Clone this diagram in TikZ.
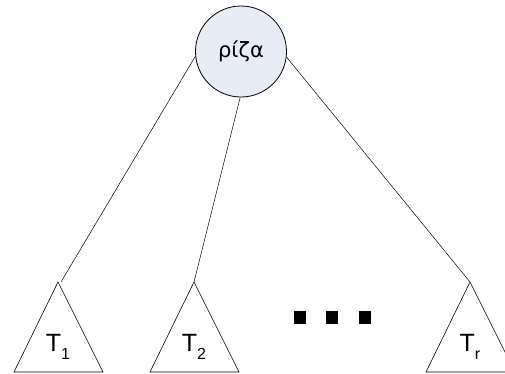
\documentclass[tikz,border=0pt]{standalone}
\usepackage{fontspec}
\setmainfont{Liberation Sans}
\newfontfamily\greekfont{DejaVu Sans}
\definecolor{rootfill}{RGB}{231,236,247}
\tikzset{
  rootnode/.style={circle, draw=black, thick, fill=rootfill, minimum size=91pt, inner sep=0pt},
  subtree/.style={draw=black, line width=0.6pt},
  edge/.style={draw=black, line width=0.5pt},
  dotsq/.style={fill=black, draw=none, minimum width=12pt, minimum height=12.5pt, inner sep=0pt},
  tlabel/.style={font=\fontsize{25}{27}\selectfont, inner sep=0pt}
}
\newcommand{\sbs}[1]{\raisebox{-0.3em}{\fontsize{16}{18}\selectfont #1}}
\begin{document}
\begin{tikzpicture}[x=1pt,y=-1pt]
\useasboundingbox (0,0) rectangle (505,373);
\clip (0,0) rectangle (505,373);
\node[rootnode] (root) at (241,51.5) {\greekfont\fontsize{21}{23}\selectfont ρίζα};
% subtrees
\coordinate (a1) at (58,282);
\coordinate (a2) at (194,282);
\coordinate (a3) at (470,282);
\draw[subtree] (a1) -- (14,372) -- (103,372) -- cycle;
\draw[subtree] (a2) -- (150,372) -- (239,372) -- cycle;
\draw[subtree] (a3) -- (426,372) -- (515,372) -- cycle;
\node[tlabel] (t1) at (58,347) {T\sbs{1}};
\node[tlabel] (t2) at (194,347) {T\sbs{2}};
\node[tlabel] (t3) at (470,347) {T\sbs{r}};
% edges
\draw[edge] (root.186) -- ([xshift=3pt]a1);
\draw[edge] (root.269) -- (a2);
\draw[edge] (root.353) -- (a3);
% dots
\node[dotsq] (d1) at (300,317.5) {};
\node[dotsq] (d2) at (332,317.5) {};
\node[dotsq] (d3) at (364.5,317.5) {};
\end{tikzpicture}
\end{document}
